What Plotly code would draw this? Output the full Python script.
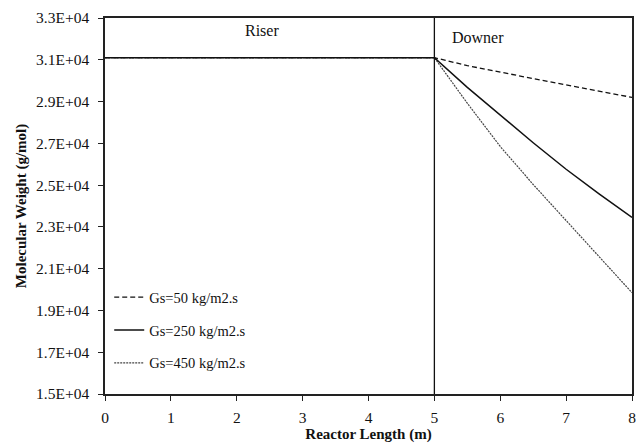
import plotly.graph_objects as go

# Reactor length (m): riser 0-5, downer 5-8
length = [0, 5, 5.5, 6, 6.5, 7, 7.5, 8]

# Molecular weight (g/mol) for each solids flux
mw_gs50 = [31100, 31100, 30720, 30400, 30100, 29800, 29500, 29200]
mw_gs250 = [31100, 31100, 29680, 28350, 27030, 25760, 24580, 23450]
mw_gs450 = [31100, 31100, 28920, 26850, 25030, 23300, 21570, 19850]

series_names = ["Gs=50 kg/m2.s", "Gs=250 kg/m2.s", "Gs=450 kg/m2.s"]
y_ticks = [15000, 17000, 19000, 21000, 23000, 25000, 27000, 29000, 31000, 33000]
y_tick_text = ["1.5E+04", "1.7E+04", "1.9E+04", "2.1E+04", "2.3E+04",
               "2.5E+04", "2.7E+04", "2.9E+04", "3.1E+04", "3.3E+04"]
x_ticks = [0, 1, 2, 3, 4, 5, 6, 7, 8]

FONT = "Liberation Serif, Times New Roman, serif"

styles = [
    dict(color="#111111", width=1.3, dash="5px,3px"),
    dict(color="#111111", width=1.5, dash="solid"),
    dict(color="#444444", width=1.2, dash="2px,1px"),
]
data = [mw_gs50, mw_gs250, mw_gs450]

fig = go.Figure()
# solid series drawn last so the shared riser segment reads as a solid line
for i in [0, 2, 1]:
    fig.add_trace(go.Scatter(
        x=length, y=data[i], mode="lines", name=series_names[i],
        line=styles[i], legendgroup=f"g{i}", legendrank=i + 1,
    ))

# Riser/downer boundary
fig.add_shape(type="line", x0=5, x1=5, y0=15000, y1=33000,
              xref="x", yref="y", line=dict(color="#111111", width=1.3))

fig.add_annotation(x=2.38, y=32420, text="Riser", showarrow=False,
                   font=dict(family=FONT, size=16, color="#111111"))
fig.add_annotation(x=5.66, y=32090, text="Downer", showarrow=False,
                   font=dict(family=FONT, size=16, color="#111111"))

axis_common = dict(
    showline=True, mirror=True, linecolor="#222222", linewidth=1.5,
    showgrid=False, zeroline=False, ticks="outside", ticklen=5,
    tickcolor="#222222", tickwidth=1.2, ticklabeloverflow="allow",
    automargin=False,
    tickfont=dict(family=FONT, size=15.5, color="#111111"),
)

fig.update_layout(
    width=638, height=444,
    margin=dict(l=105, r=6, t=18, b=50),
    paper_bgcolor="white", plot_bgcolor="white",
    showlegend=True,
    legend=dict(
        x=0.008, y=0.30, xanchor="left", yanchor="top",
        bgcolor="rgba(0,0,0,0)", tracegroupgap=11, itemwidth=30,
        font=dict(family=FONT, size=14.5, color="#111111"),
    ),
    xaxis=dict(
        range=[0, 8], tickvals=x_ticks, ticklabelstandoff=4,
        title=dict(text="<b>Reactor Length (m)</b>", standoff=2,
                   font=dict(family=FONT, size=15, color="#111111")),
        **axis_common,
    ),
    yaxis=dict(
        range=[15000, 33000], tickvals=y_ticks, ticktext=y_tick_text,
        ticklabelstandoff=6,
        title=dict(text="<b>Molecular Weight (g/mol)</b>", standoff=6,
                   font=dict(family=FONT, size=15, color="#111111")),
        **axis_common,
    ),
)

fig.write_html("out.html")
